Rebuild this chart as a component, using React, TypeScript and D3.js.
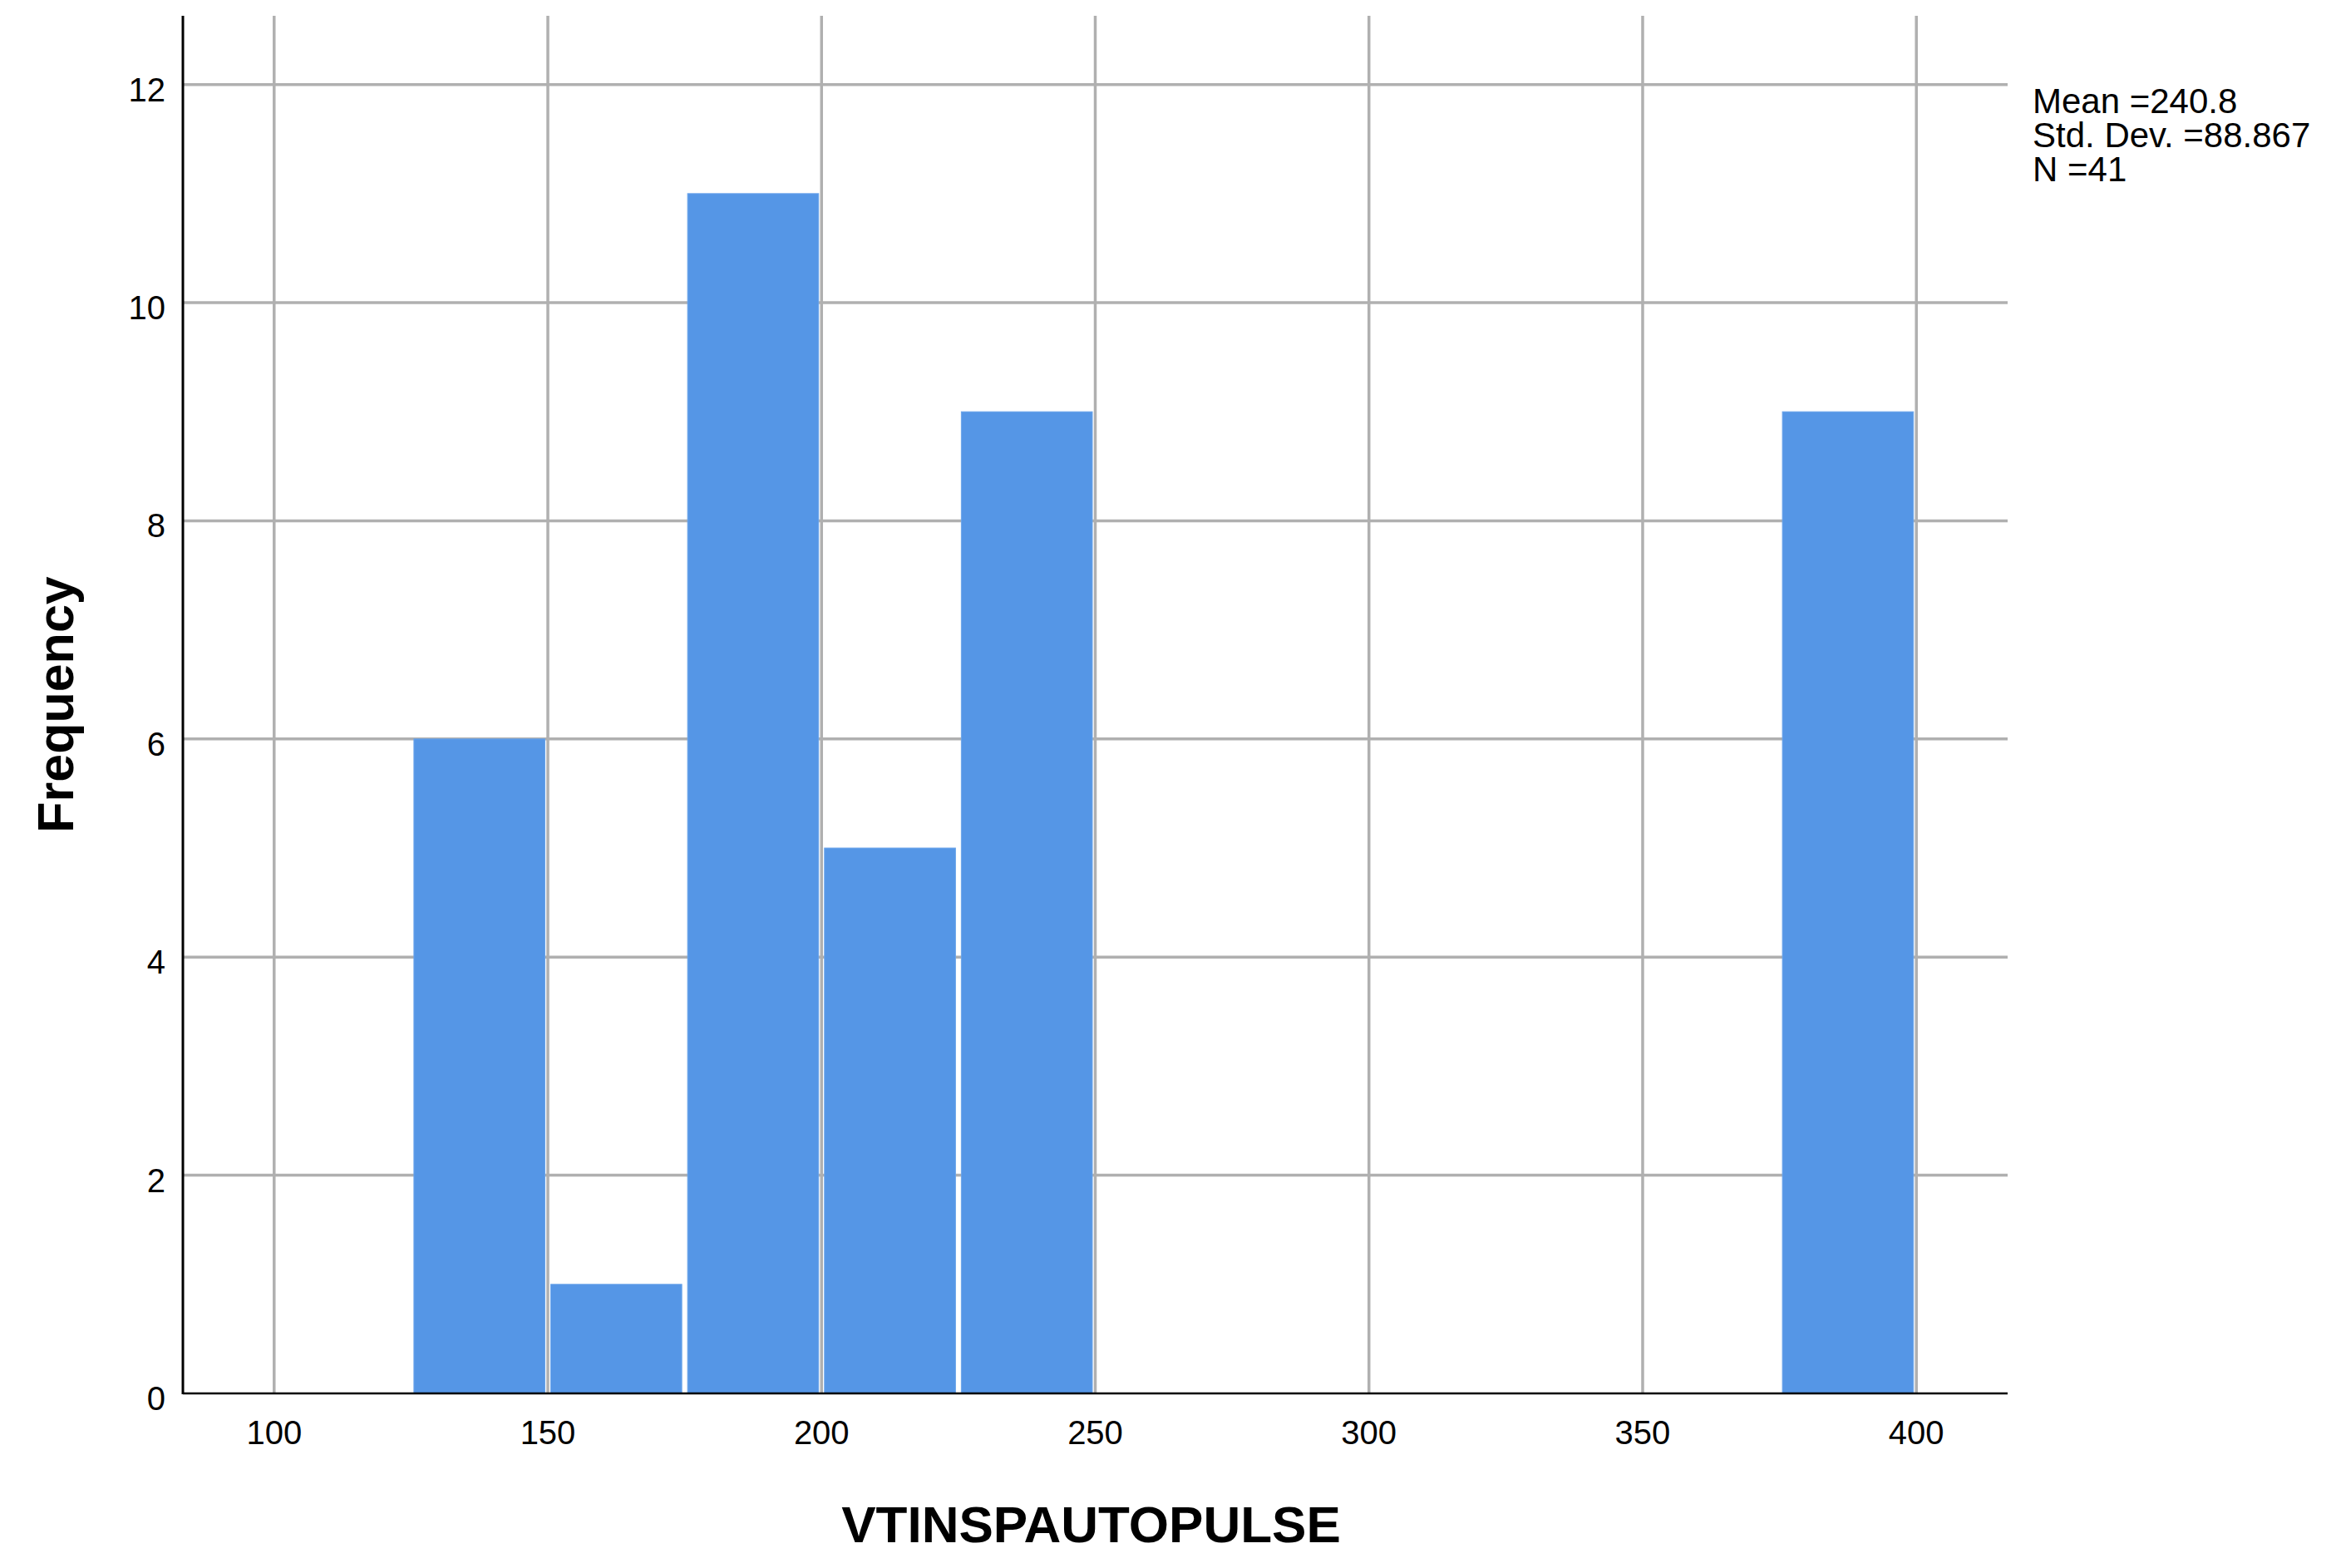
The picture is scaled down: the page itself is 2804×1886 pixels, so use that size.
import React from "react";
import * as d3 from "d3";

const binStarts = [125, 150, 175, 200, 225, 250, 275, 300, 325, 350, 375];
const binWidth = 25;
const counts = [6, 1, 11, 5, 9, 0, 0, 0, 0, 0, 9];
const xTicks = [100, 150, 200, 250, 300, 350, 400];
const yTicks = [0, 2, 4, 6, 8, 10, 12];
const statsLines = ["Mean =240.8", "Std. Dev. =88.867", "N =41"];
const xTitle = "VTINSPAUTOPULSE";
const yTitle = "Frequency";

const W = 2804;
const H = 1886;
const FONT = "Arial, 'Liberation Sans', Helvetica, sans-serif";

export default function App() {
  const left = 220, right = 2415, top = 19, bottom = 1676;
  const x = d3.scaleLinear().domain([83.33, 416.67]).range([left, right]);
  const y = d3.scaleLinear().domain([0, 12.63]).range([bottom, top]);
  const gap = 3.5;
  const bars = binStarts.map((s, i) => ({ s, e: s + binWidth, c: counts[i] })).filter(b => b.c > 0);

  return (
    <svg width={W} height={H} style={{ position: "absolute", left: 0, top: 0, background: "#fff" }} fontFamily={FONT}>
      <rect x={0} y={0} width={W} height={H} fill="#fff" />
      {/* gridlines */}
      {yTicks.filter(t => t > 0).map(t => (
        <line key={"gy" + t} x1={left} x2={right} y1={y(t)} y2={y(t)} stroke="#b0b0b0" strokeWidth={3.5} />
      ))}
      {xTicks.map(t => (
        <line key={"gx" + t} x1={x(t)} x2={x(t)} y1={top} y2={bottom} stroke="#b0b0b0" strokeWidth={3.5} />
      ))}
      {/* bars */}
      {bars.map(b => (
        <rect key={"b" + b.s} x={x(b.s) + gap} y={y(b.c)} width={x(b.e) - x(b.s) - 2 * gap} height={y(0) - y(b.c)}
          fill="#5596e6" stroke="#6aa4ea" strokeWidth={1} />
      ))}
      {/* axes */}
      <line x1={left} x2={left} y1={top} y2={bottom + 1} stroke="#000" strokeWidth={3} />
      <line x1={left} x2={right} y1={bottom} y2={bottom} stroke="#000" strokeWidth={2.5} />
      {/* tick labels */}
      {yTicks.map(t => (
        <text key={"ly" + t} x={199} y={y(t) + 20} textAnchor="end" fontSize={40} fill="#000">{t}</text>
      ))}
      {xTicks.map(t => (
        <text key={"lx" + t} x={x(t)} y={1737} textAnchor="middle" fontSize={40} fill="#000">{t}</text>
      ))}
      {/* titles */}
      <text x={(left + right) / 2 - 5} y={1855} textAnchor="middle" fontSize={62} fontWeight="bold" fill="#000">{xTitle}</text>
      <text transform={`translate(88,${(top + bottom) / 2}) rotate(-90)`} textAnchor="middle" fontSize={61} fontWeight="bold" fill="#000">{yTitle}</text>
      {/* stats */}
      {statsLines.map((s, i) => (
        <text key={"s" + i} x={2445} y={136 + i * 41} fontSize={42} fill="#000">{s}</text>
      ))}
    </svg>
  );
}
